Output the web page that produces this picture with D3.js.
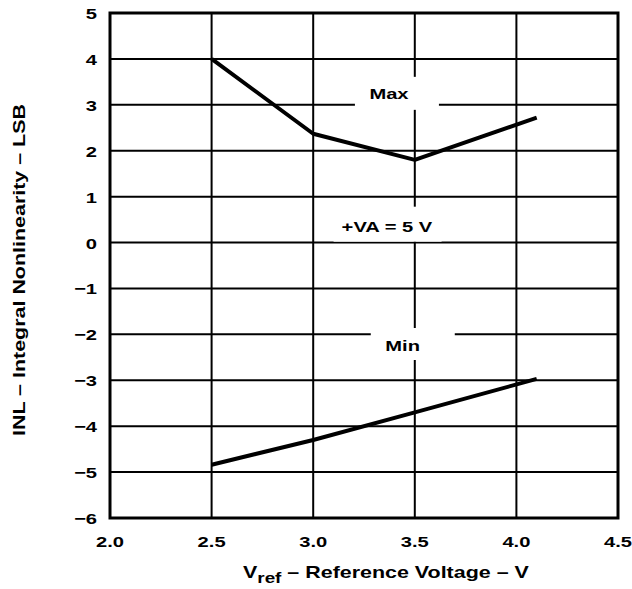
<!DOCTYPE html>
<html>
<head>
<meta charset="utf-8">
<script src="https://cdn.jsdelivr.net/npm/d3@7"></script>
<style>
  body { margin: 0; background: #fff; }
  text { font-family: "Liberation Sans", Arial, sans-serif; font-weight: bold; fill: #000; }
</style>
</head>
<body>
<script>
const vref = [2.5, 3.0, 3.5, 4.1]
const inlMax = [4.0, 2.37, 1.8, 2.72]
const inlMin = [-4.84, -4.3, -3.7, -2.97]
const xTicks = [2.0, 2.5, 3.0, 3.5, 4.0, 4.5]
const yTicks = [5, 4, 3, 2, 1, 0, -1, -2, -3, -4, -5, -6]

const W = 632, H = 589
const m = {left: 110, right: 14, top: 13, bottom: 71}
const SX = 1.3 // text in the original is drawn stretched sideways

const svg = d3.select('body').append('svg')
  .attr('width', W).attr('height', H)

const x = d3.scaleLinear().domain([2.0, 4.5]).range([m.left, W - m.right])
const y = d3.scaleLinear().domain([-6, 5]).range([H - m.bottom, m.top])

// place a stretched text at (px,py)
function put(sel, px, py, rot) {
  return sel.attr('transform', `translate(${px},${py})${rot ? ' rotate(' + rot + ')' : ''} scale(${SX},1)`)
}

const g = svg.append('g')

// grid
g.append('g').selectAll('line').data(yTicks.slice(1, -1)).join('line')
  .attr('x1', x(2.0)).attr('x2', x(4.5))
  .attr('y1', d => y(d)).attr('y2', d => y(d))
  .attr('stroke', '#000').attr('stroke-width', 2)
g.append('g').selectAll('line').data(xTicks.slice(1, -1)).join('line')
  .attr('x1', d => x(d)).attr('x2', d => x(d))
  .attr('y1', y(5)).attr('y2', y(-6))
  .attr('stroke', '#000').attr('stroke-width', 2)

// labels and the white patches that cut the grid behind them
const labels = [
  {text: 'Max', tx: 3.373, ty: 3.12, px: 3.412, py: 3.25, w: 84, h: 33},
  {text: '+VA = 5 V', tx: 3.363, ty: 0.235, px: 3.366, py: 0.40, w: 108, h: 35},
  {text: 'Min', tx: 3.44, ty: -2.357, px: 3.49, py: -2.21, w: 84, h: 32}
]
g.append('g').selectAll('rect').data(labels).join('rect')
  .attr('x', d => x(d.px) - d.w / 2)
  .attr('y', d => y(d.py) - d.h / 2)
  .attr('width', d => d.w).attr('height', d => d.h)
  .attr('fill', '#fff')

// border
g.append('rect')
  .attr('x', x(2.0)).attr('y', y(5))
  .attr('width', x(4.5) - x(2.0)).attr('height', y(-6) - y(5))
  .attr('fill', 'none').attr('stroke', '#000').attr('stroke-width', 3)

const line = d3.line().x(d => x(d[0])).y(d => y(d[1]))
;[inlMax, inlMin].forEach(s => {
  g.append('path')
    .datum(vref.map((v, i) => [v, s[i]]))
    .attr('d', line)
    .attr('fill', 'none').attr('stroke', '#000').attr('stroke-width', 4)
    .attr('stroke-linejoin', 'round')
})

g.append('g').selectAll('text').data(labels).join('text')
  .each(function(d) { put(d3.select(this), x(d.tx), y(d.ty)) })
  .attr('text-anchor', 'middle')
  .attr('font-size', 15.5)
  .text(d => d.text)

// tick labels
g.append('g').selectAll('text').data(yTicks).join('text')
  .each(function(d) { put(d3.select(this), m.left - 13, y(d) + 6) })
  .attr('text-anchor', 'end')
  .attr('font-size', 15.5)
  .text(d => d < 0 ? '\u2212' + Math.abs(d) : d)
g.append('g').selectAll('text').data(xTicks).join('text')
  .each(function(d) { put(d3.select(this), x(d), y(-6) + 28.5) })
  .attr('text-anchor', 'middle')
  .attr('font-size', 15.5)
  .text(d => d.toFixed(1))

// axis titles
const xt = put(svg.append('text'), 243, 578)
  .attr('text-anchor', 'start').attr('font-size', 16.5)
xt.append('tspan').text('V')
xt.append('tspan').attr('font-size', 14.5).attr('dy', 5).text('ref')
xt.append('tspan').attr('dy', -5).text(' \u2013 Reference Voltage \u2013 V')

put(svg.append('text'), 25, 270, -90)
  .attr('text-anchor', 'middle').attr('font-size', 16.5)
  .text('INL \u2013 Integral Nonlinearity \u2013 LSB')
</script>
</body>
</html>
